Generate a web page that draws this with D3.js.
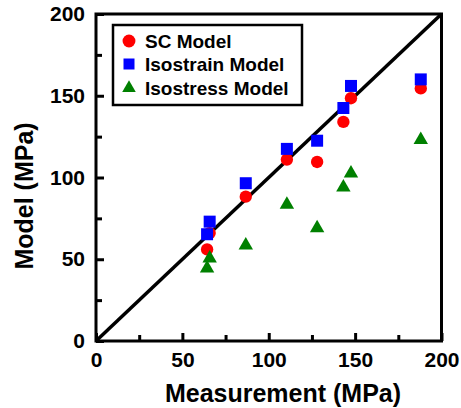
<!DOCTYPE html>
<html>
<head>
<meta charset="utf-8">
<script src="https://cdn.jsdelivr.net/npm/d3@7"></script>
<style>
  body { margin: 0; background: #fff; }
  svg text { font-family: "Liberation Sans", Arial, sans-serif; font-weight: bold; }
</style>
</head>
<body>
<div id="chart"></div>
<script>
// values
const measurement = [64.3, 65.8, 86.7, 110.5, 128, 143.2, 147.6, 188];
const scModel = [56, 66, 88.3, 111, 109.5, 134, 148.5, 154.5];
const isostrainModel = [65.3, 73, 96.5, 117.5, 122.5, 142.5, 156, 160];
const isostressModel = [44.5, 50.6, 58.5, 83.5, 69, 94, 102.5, 123];
const majorTicks = [0, 50, 100, 150, 200];
const minorTicks = [25, 75, 125, 175];
const seriesNames = ["SC Model", "Isostrain Model", "Isostress Model"];

const width = 461, height = 408;
const margin = {top: 14, right: 20, bottom: 67, left: 96};

const svg = d3.select("#chart").append("svg")
  .attr("width", width)
  .attr("height", height);

const x = d3.scaleLinear().domain([0, 200]).range([margin.left, 441.5]);
const y = d3.scaleLinear().domain([0, 200]).range([341, margin.top]);

// y = x reference line
svg.append("line")
  .attr("x1", x(0)).attr("y1", y(0))
  .attr("x2", x(200)).attr("y2", y(200))
  .attr("stroke", "#000")
  .attr("stroke-width", 3.5);

// axes, ticks pointing inward
const yAxis = svg.append("g")
  .attr("transform", `translate(${x(0)},0)`)
  .call(d3.axisLeft(y).tickValues(majorTicks).tickSizeInner(-8).tickSizeOuter(0).tickPadding(11));
const yMinor = svg.append("g")
  .attr("transform", `translate(${x(0)},0)`)
  .call(d3.axisLeft(y).tickValues(minorTicks).tickSizeInner(-6).tickSizeOuter(0).tickFormat(""));
const xAxis = svg.append("g")
  .attr("transform", `translate(0,${y(0)})`)
  .call(d3.axisBottom(x).tickValues(majorTicks).tickSizeInner(-8).tickSizeOuter(0).tickPadding(11));
const xMinor = svg.append("g")
  .attr("transform", `translate(0,${y(0)})`)
  .call(d3.axisBottom(x).tickValues(minorTicks).tickSizeInner(-6).tickSizeOuter(0).tickFormat(""));

[yAxis, yMinor, xAxis, xMinor].forEach(g => {
  g.select(".domain").remove();
  g.selectAll(".tick line").attr("stroke", "#000").attr("stroke-width", 3);
  g.selectAll(".tick text").attr("font-size", 21).attr("fill", "#000")
    .style("font-family", "'Liberation Sans', Arial, sans-serif").style("font-weight", "bold");
});

// frame
svg.append("rect")
  .attr("x", x(0)).attr("y", y(200))
  .attr("width", x(200) - x(0)).attr("height", y(0) - y(200))
  .attr("fill", "none")
  .attr("stroke", "#000")
  .attr("stroke-width", 3);

// markers
const circle = d3.symbol().type(d3.symbolCircle).size(120);
const square = d3.symbol().type(d3.symbolSquare).size(144);
const triangle = d3.symbol().type(d3.symbolTriangle).size(90);

svg.append("g").selectAll("path")
  .data(measurement.map((m, i) => [m, scModel[i]]))
  .join("path")
  .attr("d", circle)
  .attr("transform", d => `translate(${x(d[0])},${y(d[1])})`)
  .attr("fill", "#ff0000");

svg.append("g").selectAll("path")
  .data(measurement.map((m, i) => [m, isostrainModel[i]]))
  .join("path")
  .attr("d", square)
  .attr("transform", d => `translate(${x(d[0])},${y(d[1])})`)
  .attr("fill", "#0000ff");

svg.append("g").selectAll("path")
  .data(measurement.map((m, i) => [m, isostressModel[i]]))
  .join("path")
  .attr("d", triangle)
  .attr("transform", d => `translate(${x(d[0])},${y(d[1])})`)
  .attr("fill", "#008000");

// legend
const legend = svg.append("g");
legend.append("rect")
  .attr("x", 113).attr("y", 25)
  .attr("width", 189).attr("height", 80)
  .attr("fill", "#fff")
  .attr("stroke", "#000")
  .attr("stroke-width", 2.5);

const legendSymbols = [
  {sym: d3.symbol().type(d3.symbolCircle).size(130), color: "#ff0000"},
  {sym: d3.symbol().type(d3.symbolSquare).size(121), color: "#0000ff"},
  {sym: d3.symbol().type(d3.symbolTriangle).size(80), color: "#008000"}
];
const rowY = [41, 64, 88];

seriesNames.forEach((name, i) => {
  legend.append("path")
    .attr("d", legendSymbols[i].sym)
    .attr("transform", `translate(129,${rowY[i]})`)
    .attr("fill", legendSymbols[i].color);
  legend.append("text")
    .attr("x", 145).attr("y", rowY[i])
    .attr("dy", "0.36em")
    .attr("font-size", 19)
    .text(name);
});

// axis titles
svg.append("text")
  .attr("x", 283)
  .attr("y", 402)
  .attr("text-anchor", "middle")
  .attr("font-size", 25)
  .text("Measurement (MPa)");

svg.append("text")
  .attr("transform", "translate(33,196) rotate(-90)")
  .attr("text-anchor", "middle")
  .attr("font-size", 25)
  .text("Model (MPa)");
</script>
</body>
</html>
